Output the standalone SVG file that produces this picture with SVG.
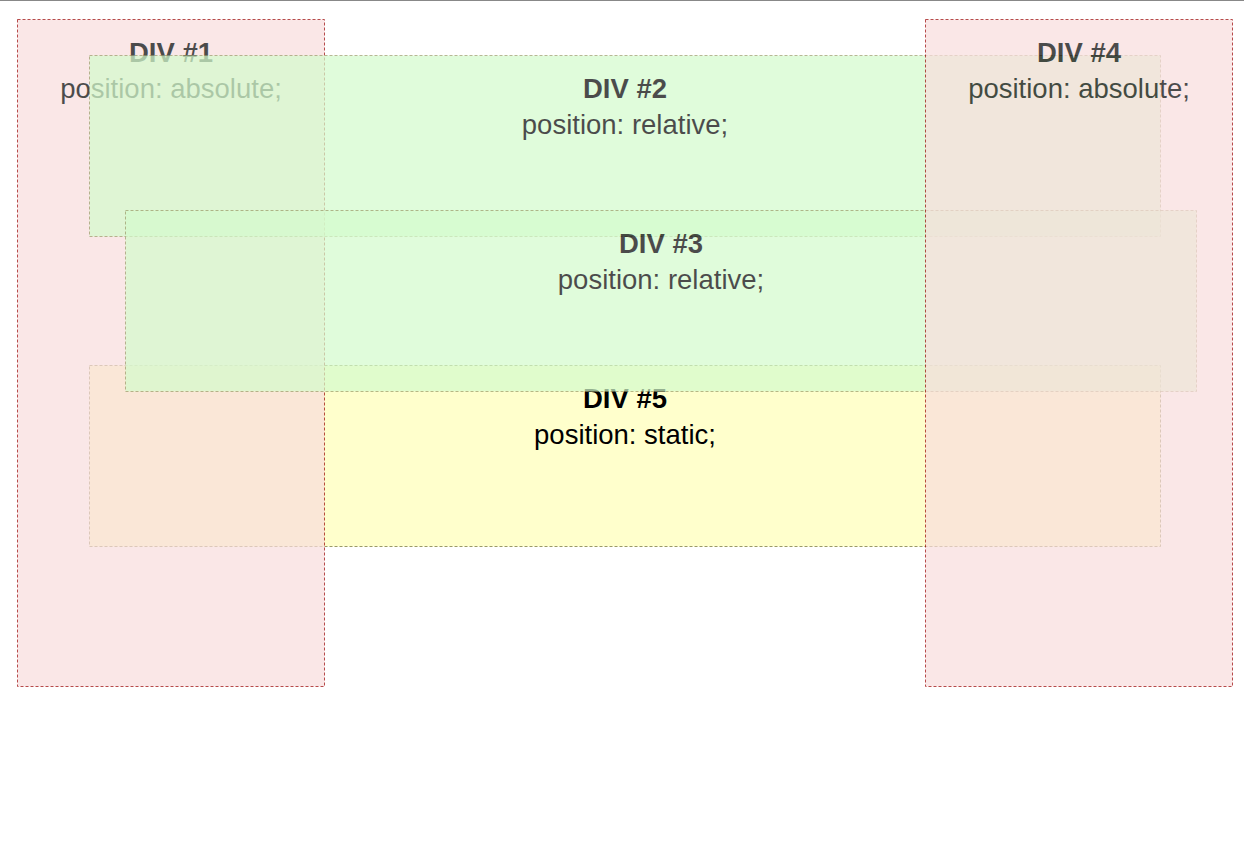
<svg xmlns="http://www.w3.org/2000/svg" width="1244" height="856" viewBox="0 0 1244 856">
<style>
.box{opacity:0.7}
.t{font-family:"Liberation Sans",Arial,sans-serif;font-size:27.5px;text-anchor:middle;fill:#000}
.b{font-weight:bold}
.abs{fill:#f9dddd;stroke:#990000;stroke-width:1;stroke-dasharray:3 2}
.rel{fill:#d4fccd;stroke:#999966;stroke-width:1;stroke-dasharray:3 2}
.sta{fill:#ffffcc;stroke:#999966;stroke-width:1;stroke-dasharray:3 2}
</style>
<rect x="0" y="0" width="1244" height="856" fill="#ffffff"/>
<line x1="0" y1="0.5" x2="1244" y2="0.5" stroke="#888888" stroke-width="1"/>
<g id="div5">
<rect class="sta" x="89.5" y="365.5" width="1071" height="181"/>
<text class="t b" x="625" y="408">DIV #5</text>
<text class="t" x="625" y="444">position: static;</text>
</g>
<g id="div1" class="box">
<rect class="abs" x="17.5" y="19.5" width="307" height="667"/>
<text class="t b" x="171" y="62">DIV #1</text>
<text class="t" x="171" y="98">position: absolute;</text>
</g>
<g id="div2" class="box">
<rect class="rel" x="89.5" y="55.5" width="1071" height="181"/>
<text class="t b" x="625" y="98">DIV #2</text>
<text class="t" x="625" y="134">position: relative;</text>
</g>
<g id="div3" class="box">
<rect class="rel" x="125.5" y="210.5" width="1071" height="181"/>
<text class="t b" x="661" y="253">DIV #3</text>
<text class="t" x="661" y="289">position: relative;</text>
</g>
<g id="div4" class="box">
<rect class="abs" x="925.5" y="19.5" width="307" height="667"/>
<text class="t b" x="1079" y="62">DIV #4</text>
<text class="t" x="1079" y="98">position: absolute;</text>
</g>
</svg>
